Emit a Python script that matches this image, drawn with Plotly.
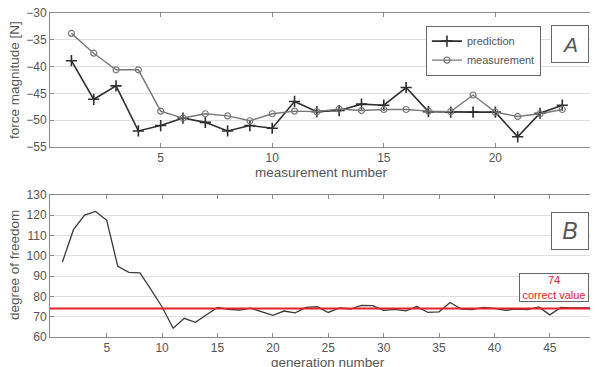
import plotly.graph_objects as go
from plotly.subplots import make_subplots

# Panel A data
meas_no = list(range(1, 24))
prediction = [-38.9, -46.1, -43.6, -52.0, -51.0, -49.6, -50.4, -52.0, -51.0, -51.5,
              -46.5, -48.4, -48.2, -47.0, -47.2, -43.9, -48.4, -48.5, -48.5, -48.5,
              -53.1, -48.7, -47.2]
measurement = [-33.8, -37.5, -40.6, -40.6, -48.3, -49.6, -48.8, -49.2, -50.1, -48.8,
               -48.3, -48.4, -47.9, -48.2, -48.0, -48.0, -48.3, -48.4, -45.3, -48.5,
               -49.3, -48.8, -48.0]

# Panel B data
generation = list(range(1, 50))
dof = [97.0, 112.9, 120.1, 121.9, 117.5, 94.8, 91.9, 91.6, 83.3, 74.8,
       64.3, 69.2, 67.2, 71.0, 74.6, 73.6, 73.3, 74.2, 72.3, 70.7,
       72.8, 71.9, 74.6, 75.0, 72.1, 74.3, 73.8, 75.6, 75.5, 73.1,
       73.6, 72.9, 75.0, 72.1, 72.4, 77.0, 73.8, 73.5, 74.6, 74.1,
       73.2, 73.8, 73.5, 74.8, 70.9, 74.6, 74.3, 74.4, 74.4]
correct_value = 74

A_ticks = [-30, -35, -40, -45, -50, -55]
B_ticks = [60, 70, 80, 90, 100, 110, 120, 130]

TXT = "#555555"
AX = "#8a8a8a"
GRID = "#dedede"
FONT = "Liberation Sans, Arial, sans-serif"

fig = make_subplots(rows=2, cols=1)

fig.add_trace(go.Scatter(x=meas_no, y=prediction, mode="lines+markers", name="prediction",
                         line=dict(color="#2e2e2e", width=1.6),
                         marker=dict(symbol="cross-thin-open", size=8,
                                     line=dict(color="#2e2e2e", width=1.6))), row=1, col=1)
fig.add_trace(go.Scatter(x=meas_no, y=measurement, mode="lines+markers", name="measurement",
                         line=dict(color="#777777", width=1.4),
                         marker=dict(symbol="circle-open", size=6,
                                     line=dict(color="#777777", width=1.2))), row=1, col=1)
fig.add_trace(go.Scatter(x=generation, y=dof, mode="lines", showlegend=False,
                         line=dict(color="#3a3a3a", width=1.3)), row=2, col=1)

fig.add_shape(type="line", xref="x2 domain", yref="y2", x0=0, x1=1,
              y0=correct_value, y1=correct_value,
              line=dict(color="#e8202a", width=2))

axis_common = dict(showline=True, linecolor=AX, linewidth=1, ticks="inside", ticklen=4,
                   tickcolor=AX, tickfont=dict(size=12, color=TXT, family=FONT),
                   zeroline=False, automargin=False, ticklabeloverflow="allow")

fig.update_xaxes(**axis_common, mirror="ticks", showgrid=False)
fig.update_yaxes(**axis_common, mirror=False, showgrid=True, gridcolor=GRID, gridwidth=1)

fig.update_xaxes(range=[0.04, 24.6], tickvals=[5, 10, 15, 20], row=1, col=1)
fig.update_yaxes(range=[-55, -30], tickvals=A_ticks, row=1, col=1)
fig.update_xaxes(range=[-0.12, 49.35], tickvals=[5, 10, 15, 20, 25, 30, 35, 40, 45], row=2, col=1)
fig.update_yaxes(range=[60, 130], tickvals=B_ticks, row=2, col=1)

fig.update_layout(
    width=590, height=359,
    margin=dict(l=42, r=0, t=5, b=30, autoexpand=False),
    paper_bgcolor="white", plot_bgcolor="white",
    font=dict(family=FONT, color=TXT, size=12),
    xaxis=dict(domain=[0, 1]), yaxis=dict(domain=[0.5864, 1.0]),
    xaxis2=dict(domain=[0, 1]), yaxis2=dict(domain=[0.0, 0.4383]),
    legend=dict(x=0.686, y=0.961, xanchor="left", yanchor="top",
                bgcolor="white", bordercolor="#666666", borderwidth=1,
                font=dict(size=11, color=TXT, family=FONT),
                itemwidth=30, tracegroupgap=0),
    showlegend=True,
)

def note(text, x, y, size, angle=0, **kw):
    d = dict(text=text, x=x, y=y, xref="paper", yref="paper", xanchor="center",
             yanchor="middle", textangle=angle, showarrow=False,
             font=dict(size=size, color=kw.pop("color", TXT), family=FONT))
    d.update(kw)
    return d

ann = [
    note("force magnitude [N]", -0.0657, 0.793, 13.5, angle=-90),
    note("degree of freedom", -0.0657, 0.222, 13.5, angle=-90),
    note("measurement number", 0.496, 0.509, 13.5),
    note("generation number", 0.507, -0.080, 13.5),
    note("<i>A</i>", 0.949, 0.903, 21, width=36, height=36, borderwidth=1,
         bordercolor="#666666", borderpad=0, bgcolor="white"),
    note("<i>B</i>", 0.949, 0.326, 23, width=36, height=36, borderwidth=1,
         bordercolor="#666666", borderpad=0, bgcolor="white"),
    note(f"{correct_value}<br>correct value", 0.920, 0.154, 11, color="#e8202a",
         width=68, height=27, borderwidth=1, bordercolor="#666666", borderpad=0,
         bgcolor="white"),
]
fig.update_layout(annotations=ann)

fig.write_html("out.html")
